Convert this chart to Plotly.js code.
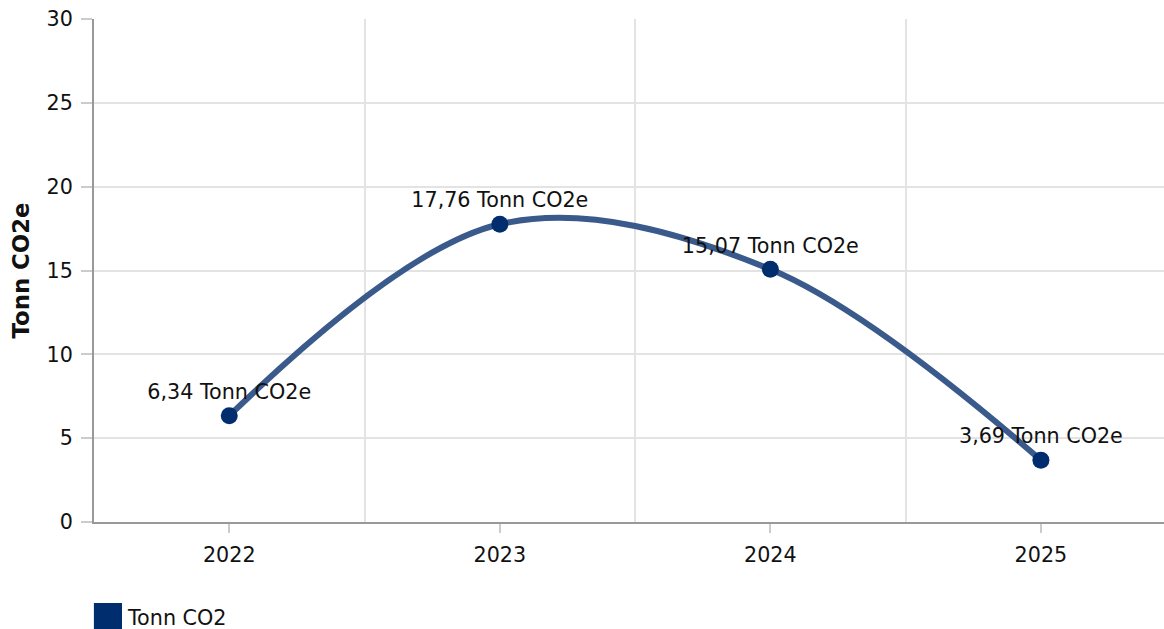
<!DOCTYPE html>
<html>
<head>
<meta charset="utf-8">
<script src="https://cdn.plot.ly/plotly-3.0.1.min.js"></script>
<style>html,body{margin:0;padding:0;background:#fff;}#chart{width:1164px;height:629px;}</style>
</head>
<body>
<div id="chart"></div>
<script>
const years = ["2022", "2023", "2024", "2025"];
const values = [6.34, 17.76, 15.07, 3.69];
const labels = ["6,34 Tonn CO2e", "17,76 Tonn CO2e", "15,07 Tonn CO2e", "3,69 Tonn CO2e"];
const seriesName = "Tonn CO2";
const yTitle = "Tonn CO2e";

const idx = years.map((_, i) => i);
const font = "DejaVu Sans, Verdana, sans-serif";
const fs = 20.7;

const trace = {
  type: "scatter",
  mode: "lines+markers+text",
  x: idx,
  y: values,
  text: labels,
  textposition: "top center",
  textfont: {family: font, size: fs, color: "#111"},
  line: {shape: "spline", smoothing: 1, color: "#3a5a8c", width: 6},
  marker: {color: "#002d6e", size: 17},
  name: seriesName,
  showlegend: false,
  hoverinfo: "x+y",
  cliponaxis: false
};

const layout = {
  width: 1164, height: 629,
  margin: {l: 94, r: 0, t: 19, b: 107},
  paper_bgcolor: "#fff", plot_bgcolor: "#fff",
  font: {family: font, size: fs, color: "#111"},
  showlegend: false,
  xaxis: {
    type: "linear",
    range: [-0.5, 3.455],
    tickvals: idx,
    ticktext: years,
    showgrid: false,
    zeroline: false,
    showline: true, linecolor: "#999", linewidth: 2,
    ticks: "outside", ticklen: 9, tickcolor: "#ccc", tickwidth: 2,
    ticklabelstandoff: 4,
    minor: {tickvals: [0.5, 1.5, 2.5], showgrid: true, gridcolor: "#e3e3e3", gridwidth: 2, ticks: ""},
    tickfont: {family: font, size: fs, color: "#111"}
  },
  yaxis: {
    range: [0, 30],
    tickvals: [0, 5, 10, 15, 20, 25, 30],
    showgrid: true, gridcolor: "#e3e3e3", gridwidth: 2,
    zeroline: false,
    showline: true, linecolor: "#999", linewidth: 2,
    ticks: "outside", ticklen: 11, tickcolor: "#ccc", tickwidth: 2,
    ticklabelstandoff: 4,
    tickfont: {family: font, size: fs, color: "#111"},
    title: {text: "<b>" + yTitle + "</b>", font: {family: font, size: 22.8, color: "#111"}, standoff: 11}
  },
  shapes: [
    {type: "rect", xref: "paper", yref: "paper", x0: -0.0001, x1: 28/1070, y0: -107/503, y1: -81/503, fillcolor: "#002d6e", line: {width: 0}}
  ],
  annotations: [
    {xref: "paper", yref: "paper", x: 31/1070, y: -96/503, xanchor: "left", yanchor: "middle", text: seriesName, showarrow: false, font: {family: font, size: fs, color: "#111"}}
  ]
};

Plotly.newPlot("chart", [trace], layout, {displayModeBar: false, staticPlot: true});
</script>
</body>
</html>
